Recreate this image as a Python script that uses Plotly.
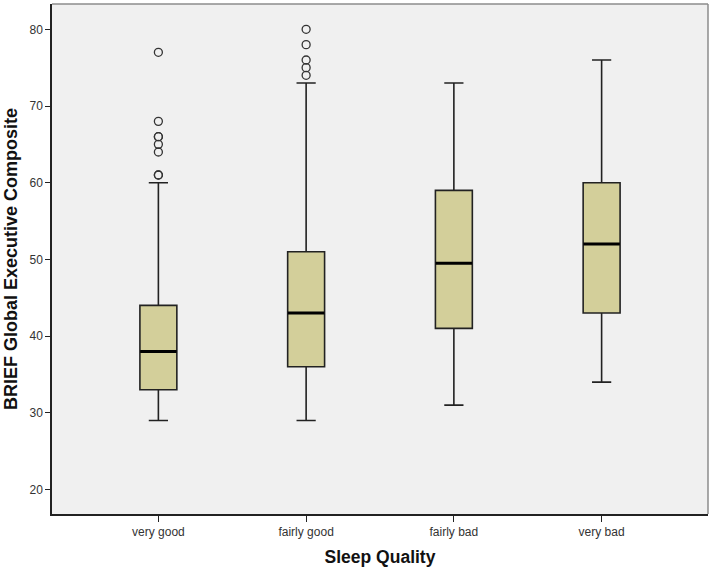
import plotly.graph_objects as go

# sleep quality groups and the box statistics
categorias = ["very good", "fairly good", "fairly bad", "very bad"]
q1 = [33, 36, 41, 43]
mediana = [38, 43, 49.5, 52]
q3 = [44, 51, 59, 60]
bigode_inf = [29, 29, 31, 34]
bigode_sup = [60, 73, 73, 76]

# outliers (circles) per group
outliers_x = ["very good"] * 8 + ["fairly good"] * 5
outliers_y = [61, 61, 64, 65, 66, 66, 68, 77, 74, 75, 76, 78, 80]

fig = go.Figure()

# boxes
fig.add_trace(go.Box(
    x=categorias,
    q1=q1, median=mediana, q3=q3,
    lowerfence=bigode_inf, upperfence=bigode_sup,
    width=0.25,
    whiskerwidth=0.52,
    fillcolor="#D3CF9A",
    line=dict(color="#222222", width=1.6),
    boxpoints=False,
    hoverinfo="skip",
))

# thick median line like spss (line-ew length is 1.4 x size)
fig.add_trace(go.Scatter(
    x=categorias, y=mediana,
    mode="markers",
    marker=dict(symbol="line-ew", size=26, line=dict(color="black", width=3)),
    hoverinfo="skip",
))

# outliers
fig.add_trace(go.Scatter(
    x=outliers_x, y=outliers_y,
    mode="markers",
    marker=dict(symbol="circle-open", size=8, color="#333333", line=dict(width=1.3)),
    hoverinfo="skip",
))

fig.update_layout(
    width=714, height=571,
    margin=dict(l=52, r=6, t=4, b=57),
    paper_bgcolor="white",
    plot_bgcolor="#F0F0F0",
    showlegend=False,
    font=dict(family="Arial, Liberation Sans, sans-serif", color="#333333", size=12),
    shapes=[
        # gray top and right border of the plot frame
        dict(type="line", xref="paper", yref="paper", x0=0, x1=1, y0=1, y1=1,
             line=dict(color="#8C8C8C", width=1.5)),
        dict(type="line", xref="paper", yref="paper", x0=1, x1=1, y0=0, y1=1,
             line=dict(color="#8C8C8C", width=1.5)),
    ],
)

fig.update_xaxes(
    type="category",
    range=[-0.72, 3.72],
    showline=True, linecolor="#222222", linewidth=1.5,
    ticks="outside", ticklen=6, tickcolor="#222222",
    showgrid=False, zeroline=False,
    tickfont=dict(size=12, color="#333333"),
    title=dict(text="<b>Sleep Quality</b>", font=dict(size=17.5, color="#111111"), standoff=13),
    automargin=False,
)

fig.update_yaxes(
    range=[16.8, 83.3],
    tickvals=[20, 30, 40, 50, 60, 70, 80],
    showline=True, linecolor="#222222", linewidth=1.5,
    ticks="outside", ticklen=5, tickcolor="#222222",
    showgrid=False, zeroline=False,
    tickfont=dict(size=12, color="#333333"),
    title=dict(text="<b>BRIEF Global Executive Composite</b>", font=dict(size=18, color="#111111"), standoff=7),
    automargin=False,
)

# tira a margem do body para o grafico ficar no canto
fig.write_html("out.html", config={"displayModeBar": False},
               post_script="document.body.style.margin='0';")
